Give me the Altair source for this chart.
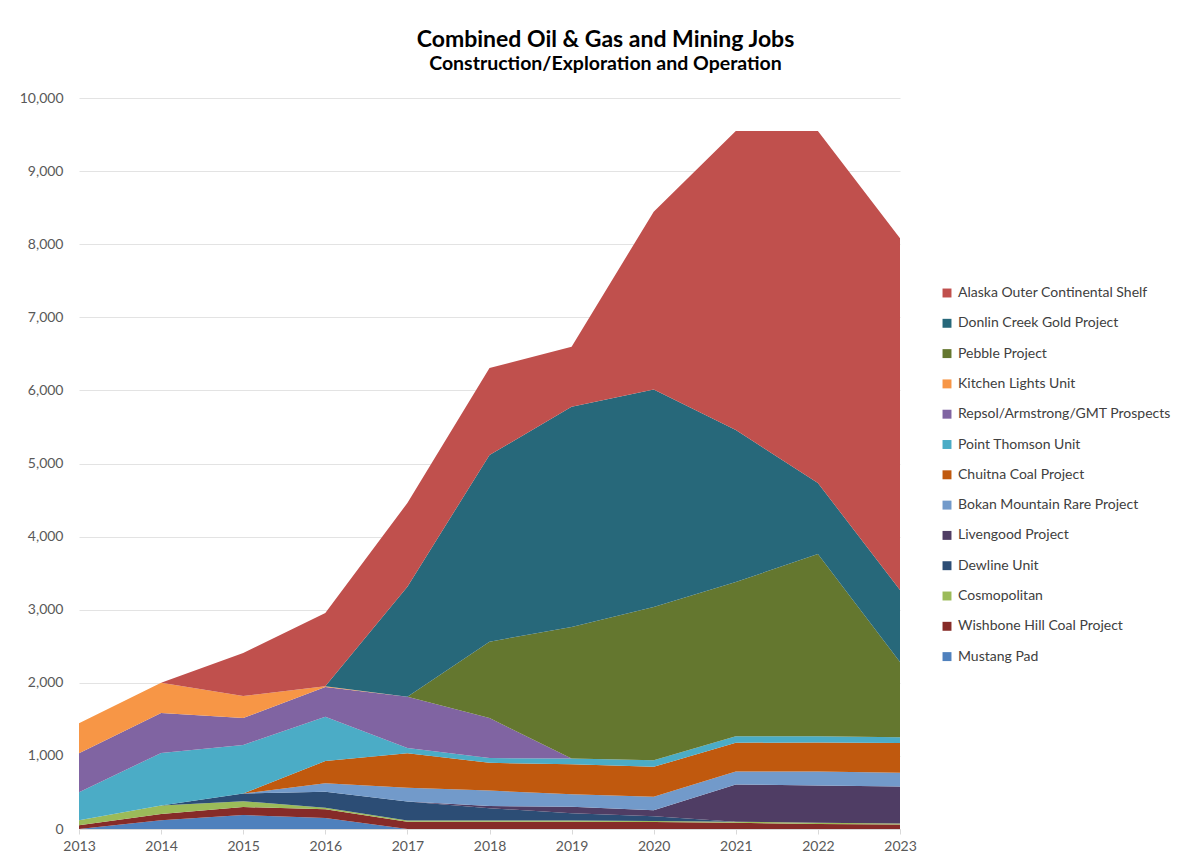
import altair as alt
import pandas as pd

years = [2013, 2014, 2015, 2016, 2017, 2018, 2019, 2020, 2021, 2022, 2023]

# series listed bottom of stack -> top of stack
series_names = [
    "Mustang Pad",
    "Wishbone Hill Coal Project",
    "Cosmopolitan",
    "Dewline Unit",
    "Livengood Project",
    "Bokan Mountain Rare Project",
    "Chuitna Coal Project",
    "Point Thomson Unit",
    "Repsol/Armstrong/GMT Prospects",
    "Kitchen Lights Unit",
    "Pebble Project",
    "Donlin Creek Gold Project",
    "Alaska Outer Continental Shelf",
]

mustang = [0, 120, 190, 150, 0, 0, 0, 0, 0, 0, 0]
wishbone = [50, 85, 110, 120, 100, 100, 100, 95, 85, 70, 60]
cosmopolitan = [70, 115, 80, 20, 15, 15, 15, 15, 15, 15, 15]
dewline = [0, 0, 105, 220, 260, 170, 100, 65, 0, 0, 0]
livengood = [0, 0, 0, 0, 0, 30, 90, 80, 510, 510, 505]
bokan = [0, 0, 0, 115, 190, 210, 170, 185, 175, 190, 190]
chuitna = [0, 0, 0, 305, 470, 380, 410, 410, 395, 400, 405]
point_thomson = [383, 720, 664, 605, 73, 65, 80, 90, 90, 85, 80]
repsol = [534, 547, 369, 407, 700, 548, 0, 0, 0, 0, 0]
kitchen = [410, 413, 302, 10, 0, 0, 0, 0, 0, 0, 0]
pebble = [0, 0, 0, 0, 0, 1044, 1800, 2097, 2109, 2492, 1030]
donlin = [0, 0, 0, 0, 1507, 2554, 3011, 2977, 2079, 971, 985]
ocs = [0, 0, 587, 1003, 1145, 1190, 821, 2431, 4090, 4815, 4810]

series_values = [mustang, wishbone, cosmopolitan, dewline, livengood, bokan,
                 chuitna, point_thomson, repsol, kitchen, pebble, donlin, ocs]

colors = ["#4F81BD", "#862B28", "#9BBB59", "#2C4D75", "#4F3D64", "#729ACA",
          "#C0590E", "#4BACC6", "#8064A2", "#F79646", "#64772F", "#27687A", "#C0504D"]

rows = []
for i, (name, vals) in enumerate(zip(series_names, series_values)):
    for y, v in zip(years, vals):
        rows.append({"Year": y, "Project": name, "Jobs": v, "order": i})
df = pd.DataFrame(rows)

legend_order = list(reversed(series_names))
legend_colors = list(reversed(colors))

font = "Lato"

chart = alt.Chart(df).mark_area(opacity=1, interpolate="linear").encode(
    x=alt.X("Year:Q",
            scale=alt.Scale(domain=[2013, 2023], nice=False, zero=False),
            axis=alt.Axis(values=years, format="d", title=None, grid=False,
                          labelFontSize=14, labelColor="#595959", labelFont=font,
                          labelPadding=5, tickSize=5, tickColor="#d9d9d9",
                          domainColor="#d9d9d9", labelFlush=False)),
    y=alt.Y("Jobs:Q", stack="zero",
            scale=alt.Scale(domain=[0, 10000], nice=False),
            axis=alt.Axis(values=list(range(0, 10001, 1000)), format=",d", title=None,
                          labelFontSize=14, labelColor="#595959", labelFont=font,
                          gridColor="#e3e3e3", domain=False, ticks=False,
                          labelPadding=16)),
    color=alt.Color("Project:N",
                    scale=alt.Scale(domain=legend_order, range=legend_colors),
                    legend=alt.Legend(title=None, orient="none", legendX=861, legendY=188,
                                      symbolType="square", symbolSize=80,
                                      symbolStrokeWidth=0,
                                      labelFontSize=14, labelColor="#404040", labelFont=font,
                                      rowPadding=16.3, labelLimit=300)),
    order=alt.Order("order:Q", sort="ascending"),
).properties(
    width=821,
    height=731,
    padding={"left": 71, "top": 90, "right": 285, "bottom": 30},
    autosize=alt.AutoSizeParams(type="none"),
    title=alt.TitleParams(
        text="Combined Oil & Gas and Mining Jobs",
        subtitle="Construction/Exploration and Operation",
        anchor="middle", dx=116, offset=18,
        font=font, fontSize=23, fontWeight="bold", color="#000000",
        subtitleFont=font, subtitleFontSize=19.5, subtitleFontWeight="bold",
        subtitleColor="#000000", subtitlePadding=3,
    ),
).configure_view(stroke=None)

chart.save("out.html", embed_options={"renderer": "svg", "actions": False})
